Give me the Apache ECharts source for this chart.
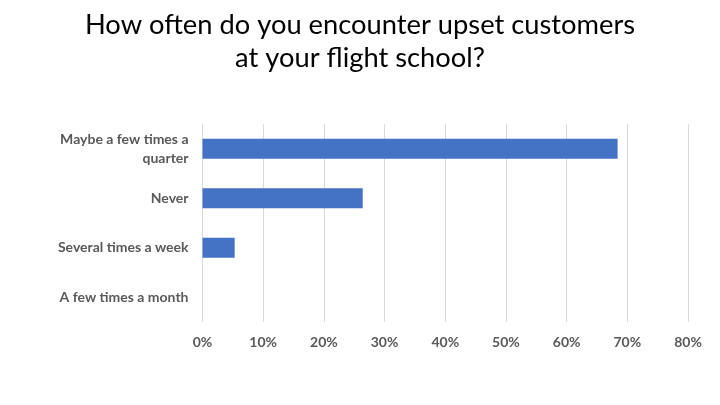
<!DOCTYPE html>
<html>
<head>
<meta charset="utf-8">
<script src="https://cdn.jsdelivr.net/npm/echarts@6/dist/echarts.min.js"></script>
<style>
  html, body { margin: 0; padding: 0; background: #fff; }
  #chart { width: 720px; height: 405px; }
</style>
</head>
<body>
<div id="chart"></div>
<script>
// categories top to bottom as in the picture
const categories = ['Maybe a few times a quarter', 'Never', 'Several times a week', 'A few times a month'];
const shares = [68.4, 26.4, 5.3, 0];
const xTicks = [0, 10, 20, 30, 40, 50, 60, 70, 80];

// break long labels at word boundaries (max ~20 chars per line)
function wrap(text) {
  let words = text.split(' ');
  let lines = [];
  let cur = '';
  for (let w of words) {
    if (cur && (cur + ' ' + w).length > 20) {
      lines.push(cur);
      cur = w;
    } else {
      cur = cur ? cur + ' ' + w : w;
    }
  }
  if (cur) lines.push(cur);
  return lines.join('\n');
}

let chart = echarts.init(document.getElementById('chart'));
let option = {
  backgroundColor: '#ffffff',
  title: {
    text: 'How often do you encounter upset customers\nat your flight school?',
    left: 'center',
    top: 4,
    textStyle: {
      fontFamily: 'Lato',
      fontWeight: 'normal',
      fontSize: 27.3,
      lineHeight: 33,
      color: '#000000'
    }
  },
  grid: {
    left: 202.5,
    right: 32,
    top: 124,
    bottom: 83
  },
  xAxis: {
    type: 'value',
    min: xTicks[0],
    max: xTicks[xTicks.length - 1],
    interval: 10,
    axisLine: { show: false },
    axisTick: { show: false },
    splitLine: { lineStyle: { color: '#d9d9d9', width: 1 } },
    axisLabel: {
      formatter: '{value}%',
      color: '#595959',
      fontFamily: 'Lato',
      fontWeight: 'bold',
      fontSize: 14,
      margin: 13
    }
  },
  yAxis: {
    type: 'category',
    inverse: true,
    data: categories,
    axisLine: { show: false },
    axisTick: { show: false },
    axisLabel: {
      formatter: wrap,
      color: '#595959',
      fontFamily: 'Lato',
      fontWeight: 'bold',
      fontSize: 14,
      lineHeight: 19,
      margin: 14
    }
  },
  series: [{
    type: 'bar',
    data: shares,
    barWidth: 20,
    itemStyle: { color: '#4472c4' },
    silent: true
  }],
  animation: false
};
chart.setOption(option);
</script>
</body>
</html>
